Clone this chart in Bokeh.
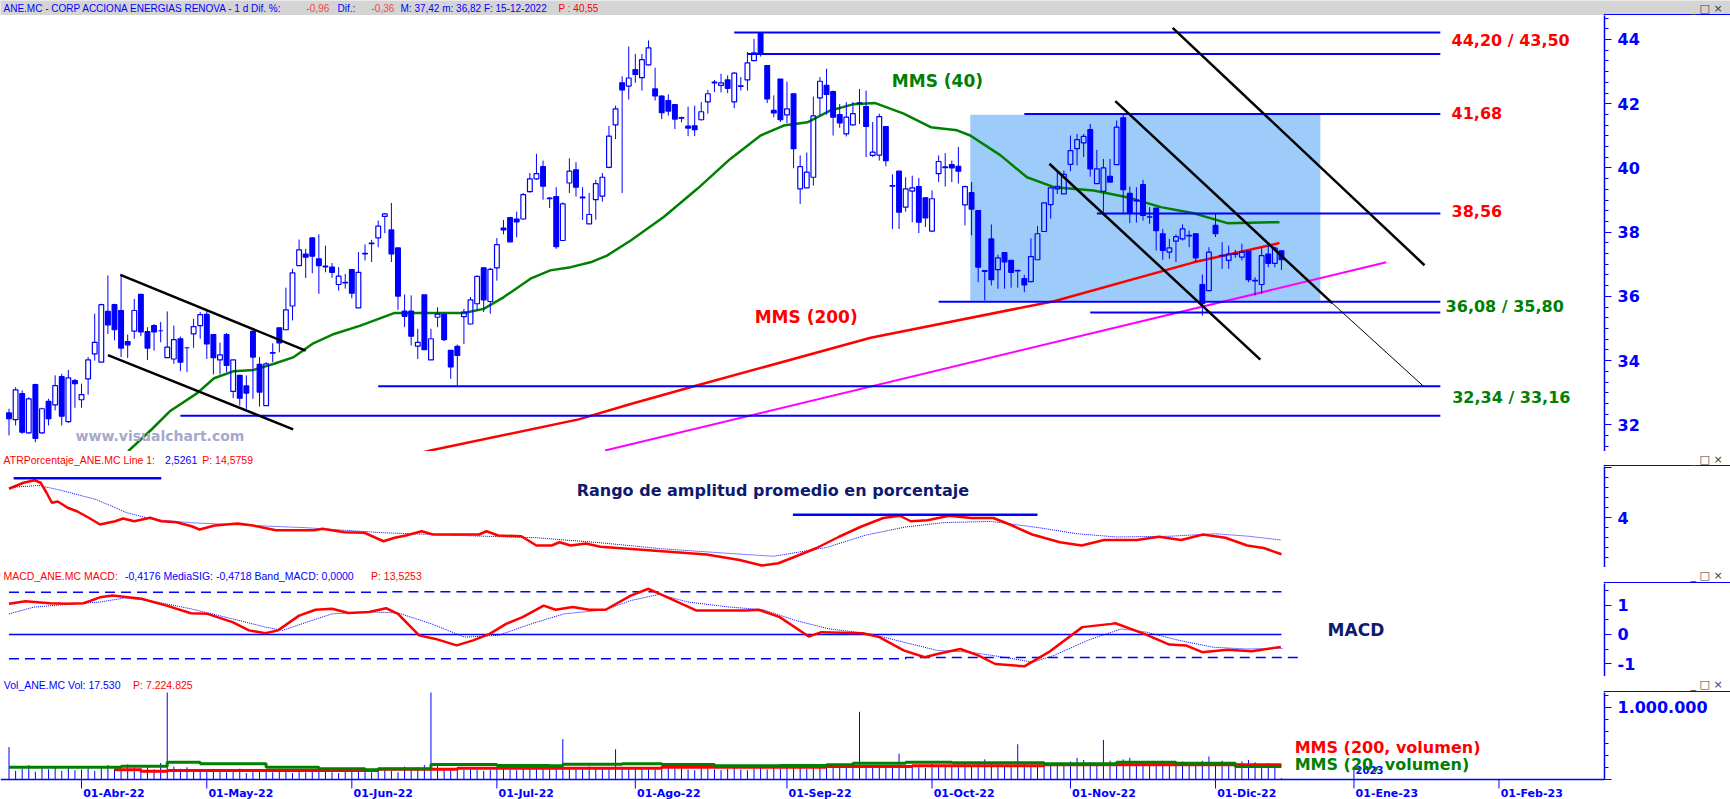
import pandas as pd
from bokeh.plotting import figure
from bokeh.layouts import column
from bokeh.models import Range1d, FixedTicker, Label, Span
from bokeh.core.properties import value
from bokeh.embed import file_html
from bokeh.resources import INLINE

# ---------------- data ----------------
holidays = ["2022-04-15", "2022-04-18", "2022-12-26"]
days = [d for d in pd.bdate_range("2022-03-17", "2023-02-28") if d.strftime("%Y-%m-%d") not in holidays]

tick_dates = ["2022-04-01", "2022-05-01", "2022-06-01", "2022-07-01", "2022-08-01", "2022-09-01",
              "2022-10-01", "2022-11-01", "2022-12-01", "2023-01-01", "2023-02-01"]
tick_labels = ["01-Abr-22", "01-May-22", "01-Jun-22", "01-Jul-22", "01-Ago-22", "01-Sep-22",
               "01-Oct-22", "01-Nov-22", "01-Dic-22", "01-Ene-23", "01-Feb-23"]

opens = [
    32.37, 32.16, 32.97, 31.75, 33.25, 31.75, 32.73, 32.62, 33.50, 32.10,
    33.38, 32.78, 33.43, 34.21, 33.95, 35.53, 35.74, 35.56, 34.59, 34.92,
    36.06, 34.90, 35.09, 34.93, 34.09, 34.05, 34.68, 34.40, 34.83, 35.09,
    35.44, 34.81, 34.02, 34.81, 33.04, 33.54, 33.21, 34.91, 33.88, 32.60,
    34.23, 35.02, 34.96, 35.70, 36.96, 37.32, 37.82, 37.17, 36.92, 36.91,
    36.37, 36.42, 36.83, 35.64, 37.32, 37.64, 37.82, 38.49, 38.07, 37.51,
    35.54, 35.54, 34.45, 36.05, 34.02, 35.35, 35.44, 34.32, 34.44, 35.37,
    35.14, 35.77, 36.89, 35.84, 36.89, 38.13, 38.45, 38.41, 38.41, 39.26,
    39.66, 40.04, 39.06, 39.11, 37.74, 39.53, 39.94, 39.09, 38.26, 39.01,
    39.12, 40.02, 41.34, 42.65, 42.55, 43.06, 42.81, 43.21, 42.46, 42.24,
    42.10, 41.97, 41.57, 41.30, 41.31, 41.50, 42.06, 42.67, 42.57, 42.74,
    42.06, 42.56, 42.74, 43.34, 44.18, 43.19, 41.79, 42.77, 41.65, 42.31,
    39.35, 39.38, 39.71, 42.18, 42.57, 42.38, 41.66, 41.06, 41.34, 42.03,
    41.91, 40.39, 40.40, 41.29, 39.45, 39.90, 38.78, 39.28, 39.42, 39.07,
    38.03, 39.82, 40.03, 40.10, 40.05, 38.85, 39.23, 38.67, 36.80, 37.79,
    36.83, 37.36, 37.12, 36.81, 36.55, 36.46, 37.14, 38.02, 38.86, 39.35,
    39.19, 40.11, 40.60, 40.78, 41.19, 39.51, 39.27, 39.74, 40.10, 41.56,
    39.21, 38.99, 39.48, 38.48, 38.75, 37.95, 37.38, 37.72, 37.79, 37.90,
    37.95, 36.37, 36.18, 38.21, 37.28, 37.12, 37.33, 37.22, 37.41, 36.50,
    36.37, 37.32, 37.03, 37.42]
highs = [
    32.50, 33.17, 33.07, 32.86, 33.28, 32.53, 32.81, 33.54, 33.59, 33.71,
    33.43, 33.28, 34.11, 35.46, 35.77, 36.65, 35.77, 36.70, 34.81, 35.92,
    36.06, 35.04, 35.14, 35.20, 35.53, 35.09, 34.75, 34.40, 35.30, 35.51,
    35.61, 34.81, 34.56, 34.86, 34.02, 33.56, 33.54, 34.94, 34.11, 33.95,
    34.54, 35.02, 36.27, 36.86, 37.77, 37.48, 37.84, 37.93, 37.58, 37.04,
    36.91, 36.70, 36.83, 37.38, 37.62, 37.76, 38.36, 38.60, 38.91, 37.51,
    36.06, 36.03, 34.99, 36.05, 34.99, 35.66, 35.44, 34.32, 34.50, 35.61,
    35.98, 36.65, 36.91, 36.89, 37.82, 38.38, 38.45, 38.64, 39.22, 39.84,
    40.44, 40.23, 39.09, 39.40, 38.93, 40.30, 40.18, 39.40, 39.22, 39.63,
    39.84, 41.31, 41.94, 42.85, 43.78, 43.55, 43.55, 43.97, 43.12, 42.26,
    42.29, 41.97, 41.60, 41.91, 41.94, 42.05, 42.43, 42.74, 42.93, 42.88,
    42.98, 42.83, 43.61, 44.02, 44.20, 43.19, 42.26, 42.77, 42.69, 42.31,
    40.39, 40.48, 42.22, 42.83, 43.09, 42.41, 41.99, 42.05, 42.05, 42.46,
    42.41, 41.43, 41.69, 41.29, 39.80, 39.90, 39.71, 39.76, 39.69, 39.09,
    39.30, 40.39, 40.46, 40.23, 40.65, 39.45, 39.56, 38.67, 36.82, 38.24,
    37.30, 37.36, 37.12, 36.82, 36.67, 37.81, 38.19, 38.91, 39.38, 39.89,
    39.92, 41.01, 41.06, 41.06, 41.37, 40.56, 40.28, 40.28, 41.48, 41.68,
    39.42, 39.40, 39.63, 38.78, 38.75, 38.10, 37.79, 37.93, 38.24, 38.05,
    37.97, 36.68, 37.53, 38.57, 37.69, 37.58, 37.45, 37.64, 37.41, 36.60,
    37.53, 37.58, 37.55, 37.42]
lows = [
    31.67, 31.98, 31.72, 31.72, 31.46, 31.72, 31.98, 32.45, 31.98, 32.06,
    32.53, 32.53, 32.94, 34.00, 33.95, 34.83, 34.63, 34.11, 34.08, 34.68,
    34.76, 34.02, 34.31, 34.57, 34.09, 33.90, 33.67, 33.64, 34.40, 34.68,
    34.05, 33.57, 33.57, 33.64, 32.83, 32.60, 32.50, 32.81, 32.57, 32.60,
    33.95, 34.26, 34.94, 35.25, 36.96, 36.57, 36.72, 36.08, 36.75, 36.58,
    36.18, 36.24, 35.94, 35.64, 37.12, 37.07, 37.53, 37.97, 37.07, 35.58,
    35.04, 34.47, 34.05, 34.34, 34.02, 35.04, 34.61, 33.43, 33.22, 34.52,
    35.12, 35.56, 35.51, 35.46, 36.49, 37.93, 37.70, 37.84, 38.38, 39.23,
    39.63, 39.01, 38.75, 37.48, 37.72, 39.22, 39.11, 38.38, 38.26, 38.39,
    38.95, 39.99, 40.90, 39.22, 42.13, 42.65, 42.41, 43.19, 42.10, 41.52,
    41.63, 41.21, 41.42, 40.99, 40.99, 41.48, 41.69, 42.36, 42.35, 42.33,
    41.86, 42.41, 42.41, 43.34, 43.47, 42.02, 41.58, 41.43, 41.39, 39.99,
    38.88, 39.38, 39.45, 41.63, 41.66, 41.01, 41.25, 40.98, 41.32, 41.37,
    40.34, 40.34, 40.23, 40.05, 38.10, 38.10, 38.64, 38.31, 37.97, 38.16,
    38.00, 39.56, 39.42, 39.56, 39.51, 38.21, 37.90, 36.44, 35.87, 36.34,
    36.24, 36.24, 36.27, 36.27, 36.13, 36.44, 37.14, 38.02, 38.42, 39.19,
    39.19, 39.90, 40.08, 40.34, 39.73, 39.51, 38.62, 39.56, 40.10, 38.57,
    38.28, 38.30, 38.36, 38.26, 37.43, 37.14, 37.17, 37.07, 37.74, 37.53,
    37.07, 35.40, 36.16, 37.85, 36.86, 36.86, 37.20, 37.12, 36.44, 36.03,
    36.08, 36.91, 36.91, 36.82]
closes = [
    32.19, 33.09, 31.77, 32.81, 31.58, 32.50, 32.19, 33.22, 32.27, 33.46,
    33.28, 32.94, 34.02, 34.57, 35.74, 35.11, 34.96, 34.39, 34.49, 35.56,
    34.89, 34.39, 34.89, 34.93, 34.42, 34.65, 33.95, 34.40, 35.06, 35.43,
    34.52, 34.09, 34.18, 33.85, 34.02, 32.83, 32.99, 34.11, 33.02, 33.90,
    34.25, 34.55, 35.58, 36.73, 37.45, 37.22, 37.25, 36.96, 36.94, 36.75,
    36.63, 36.44, 36.10, 36.75, 37.34, 37.66, 38.19, 38.57, 37.32, 36.01,
    35.38, 34.76, 34.57, 34.34, 34.68, 35.45, 34.65, 33.80, 34.16, 35.51,
    35.89, 36.62, 35.89, 36.84, 37.61, 38.07, 37.70, 38.32, 39.17, 39.66,
    39.82, 39.43, 39.04, 37.55, 38.88, 39.90, 39.40, 39.07, 38.55, 39.51,
    39.71, 40.99, 41.84, 42.43, 42.80, 42.91, 43.37, 43.74, 42.24, 41.72,
    41.77, 41.52, 41.55, 41.24, 41.19, 41.75, 42.31, 42.65, 42.65, 42.48,
    42.95, 42.54, 43.27, 43.58, 43.57, 42.15, 41.71, 41.50, 41.84, 40.60,
    40.04, 39.87, 41.62, 42.70, 42.29, 41.58, 41.40, 41.58, 41.69, 42.01,
    41.29, 40.49, 41.60, 40.23, 39.43, 38.62, 39.35, 39.38, 38.31, 38.44,
    39.04, 40.20, 40.01, 40.00, 39.90, 39.42, 38.72, 36.91, 36.78, 36.52,
    37.20, 37.07, 36.75, 36.79, 36.36, 37.24, 37.95, 38.91, 39.38, 39.43,
    39.80, 40.54, 40.88, 40.98, 39.97, 39.97, 40.00, 39.56, 41.27, 39.32,
    38.59, 38.97, 38.52, 38.47, 38.05, 37.43, 37.51, 37.86, 38.10, 37.88,
    37.20, 35.77, 37.38, 37.95, 37.26, 37.32, 37.31, 37.38, 36.52, 36.48,
    37.27, 37.03, 37.50, 37.14]
volumes_k = [
    450, 120, 150, 200, 110, 180, 140, 170, 120, 160, 130,
    140, 160, 120, 180, 200, 150, 130, 210, 170, 160, 190, 140, 230, 1250, 180, 150, 170, 140, 130,
    120, 110, 140, 100, 130, 150, 90, 110, 130, 120, 100, 140, 110, 90, 120, 100, 130, 170, 110, 100, 90, 120,
    130, 150, 110, 100, 160, 140, 120, 100, 180, 150, 170, 200, 1250, 190, 150, 140, 160, 130, 150, 140, 120, 130,
    150, 160, 140, 130, 170, 150, 160, 180, 150, 170, 560, 160, 140, 150, 180, 170, 160, 150, 420, 160, 150,
    170, 160, 150, 140, 180, 160, 150, 170, 140, 130, 160, 150, 140, 130, 150, 160, 140, 130, 150, 160, 140, 170, 150,
    160, 180, 170, 150, 190, 170, 160, 180, 170, 190, 180, 940, 200, 190, 170, 180, 160, 360, 190, 180, 170, 160,
    220, 200, 180, 190, 210, 230, 200, 250, 280, 230, 210, 200, 190, 490, 220, 200, 210, 190, 200, 230, 210,
    250, 300, 270, 240, 230, 550, 260, 240, 280, 300, 250, 230, 220, 240, 260, 230, 210, 250, 240, 220, 260, 320,
    240, 260, 230, 220, 250, 270, 240, 210, 230, 200, 18]

# moving averages (sampled along the curves)
mms40_idx = [17.0, 18.2, 21.7, 24.5, 28.5, 31.1, 34.1, 37.1, 40.2, 43.2, 46.0, 49.3, 53.3, 58.4, 65.4, 69.0,
             72.0, 75.0, 79.1, 82.1, 85.2, 88.2, 90.7, 94.3, 99.3, 104.4, 109.4, 114.0, 117.5, 121.1, 124.6,
             128.0, 131.4, 135.7, 139.8, 143.8, 145.8, 150.4, 154.4, 158.5, 164.5, 169.6, 174.7, 179.7, 184.8, 192.7]
mms40_val = [30.80, 31.20, 31.87, 32.44, 32.98, 33.45, 33.67, 33.71, 33.90, 34.11, 34.52, 34.83, 35.09, 35.48,
             35.48, 35.48, 35.61, 35.97, 36.55, 36.81, 36.91, 37.06, 37.27, 37.74, 38.47, 39.35, 40.28, 41.01,
             41.32, 41.42, 41.79, 41.98, 42.02, 41.69, 41.27, 41.17, 41.01, 40.39, 39.71, 39.40, 39.30, 39.09,
             38.78, 38.59, 38.28, 38.31]
mms200_idx = [60.0, 63.9, 86.4, 94.3, 103.9, 130.7, 158.5, 179.7, 192.7]
mms200_val = [31.00, 31.20, 32.17, 32.65, 33.20, 34.71, 35.85, 37.06, 37.66]

# drawn studies on the price chart
level_prices = [44.22, 43.55, 41.68, 38.58, 35.83, 35.50, 33.20, 32.28]
level_start = [110, 112, 154, 165, 141, 164, 56, 26]
level_end = 217.1
level_texts = ["44,20 / 43,50", "41,68", "38,56", "36,08 / 35,80", "32,34 / 33,16"]
level_text_price = [43.98, 41.70, 38.66, 35.68, 32.84]
level_text_idx = [218.8, 218.8, 218.8, 217.9, 218.9]
level_text_color = ["#ff0000", "#ff0000", "#ff0000", "#008000", "#008000"]

trend_x0 = [16.9, 15.0, 157.8, 167.8, 176.5]
trend_y0 = [36.67, 34.17, 40.13, 42.08, 44.36]
trend_x1 = [45.0, 43.1, 189.8, 200.7, 214.7]
trend_y1 = [34.31, 31.86, 34.03, 35.79, 36.97]
thin_x = [200.7, 214.6]
thin_y = [35.79, 33.19]
support_x = [90.4, 208.9]
support_y = [31.20, 37.06]
box_idx = [145.8, 198.9]
box_price = [35.86, 41.66]

# ATR %
atr_idx = [0, 2.2, 3.9, 4.8, 5.7, 6.5, 7.4, 8.9, 10.3, 12.1, 13.8, 16.1, 17.3, 19.0, 21.4, 23.1, 25.4, 27.7,
           28.9, 31.2, 34.7, 37.0, 40.5, 46.3, 47.5, 50.9, 53.9, 56.8, 58.5, 60.2, 62.6, 64.3, 71.3, 72.4, 74.2,
           77.7, 80.0, 82.3, 83.5, 85.2, 87.5, 89.7, 99.1, 105.8, 110.8, 114.2, 116.7, 119.2, 122.5, 125.9,
           129.2, 132.6, 135.1, 136.8, 139.3, 142.6, 146.0, 149.3, 151.8, 155.2, 159.4, 162.7, 166.1, 171.1,
           174.4, 177.8, 181.1, 184.5, 187.8, 190.3, 193.0]
atr_val = [5.15, 5.39, 5.49, 5.39, 4.99, 4.59, 4.64, 4.39, 4.25, 3.99, 3.72, 3.85, 3.96, 3.85, 3.99, 3.85, 3.81,
           3.65, 3.52, 3.68, 3.76, 3.68, 3.49, 3.49, 3.55, 3.41, 3.39, 3.05, 3.19, 3.28, 3.45, 3.32, 3.32, 3.45,
           3.28, 3.25, 2.88, 2.88, 3.01, 2.88, 2.96, 2.83, 2.65, 2.52, 2.30, 2.08, 2.17, 2.43, 2.78, 3.23, 3.63,
           3.98, 4.07, 3.85, 3.89, 4.07, 3.98, 3.98, 3.72, 3.32, 3.01, 2.88, 3.10, 3.10, 3.23, 3.10, 3.32, 3.19,
           2.88, 2.78, 2.53]
atr_avg_idx = [0, 4.5, 7.4, 13.2, 17.9, 21.9, 27.7, 33.5, 45.2, 50.9, 56.8, 68.4, 80.0, 89.7, 99, 110, 116, 124,
               130, 136, 142, 149, 156, 162, 168, 176, 183, 188, 193]
atr_avg_val = [5.20, 5.28, 5.12, 4.72, 4.19, 3.92, 3.79, 3.72, 3.59, 3.49, 3.39, 3.28, 3.19, 2.99, 2.75, 2.55,
               2.45, 2.80, 3.30, 3.62, 3.80, 3.84, 3.60, 3.35, 3.22, 3.25, 3.35, 3.25, 3.10]
atr_marks_x0 = [0.7, 118.9]
atr_marks_x1 = [23.1, 156.0]
atr_marks_y = [5.57, 4.11]

# MACD
macd_idx = [0, 2.5, 6.2, 8.8, 11.3, 13.8, 15.7, 20.1, 23.9, 27.6, 30.1, 33.9, 36.4, 38.9, 40.8, 44.0, 46.5, 49.0,
            51.5, 54.6, 57.2, 59.0, 62.2, 64.7, 67.9, 70.4, 72.9, 75.4, 77.9, 81.1, 82.9, 85.5, 88.0, 90.5, 94.3,
            97.0, 99.3, 104.3, 111.9, 113.7, 116.9, 121.3, 123.2, 129.5, 132.0, 135.7, 138.9, 140.8, 144.3, 147.0,
            149.6, 154.0, 157.7, 162.8, 167.2, 167.8, 172.2, 176.0, 178.5, 181.0, 184.8, 188.5, 192.9]
macd_val = [1.04, 1.13, 1.06, 1.04, 1.06, 1.26, 1.32, 1.21, 0.98, 0.72, 0.70, 0.42, 0.14, 0.04, 0.14, 0.64, 0.84,
            0.87, 0.73, 0.76, 0.89, 0.70, -0.03, -0.15, -0.37, -0.20, 0.02, 0.36, 0.59, 0.98, 0.84, 0.93, 0.84,
            0.84, 1.32, 1.55, 1.32, 0.81, 0.81, 0.84, 0.59, -0.07, 0.08, 0.04, -0.09, -0.54, -0.77, -0.66, -0.49,
            -0.71, -1.00, -1.08, -0.60, 0.25, 0.36, 0.38, 0.02, -0.34, -0.37, -0.60, -0.52, -0.57, -0.42]
sig_idx = [0, 3.8, 8.8, 13.8, 17.6, 21.3, 27.6, 33.9, 38.9, 41.5, 45.2, 49.0, 55.3, 59.0, 64.1, 69.1, 74.2, 79.2,
           84.2, 90.5, 94.3, 98.6, 103.0, 109.3, 114.4, 119.4, 124.4, 130.7, 135.7, 140.8, 145.8, 150.9, 155.3,
           158.5, 163.6, 168.7, 172.5, 177.5, 182.6, 187.6, 193.3]
sig_val = [0.70, 0.93, 1.02, 1.10, 1.24, 1.15, 0.87, 0.53, 0.25, 0.14, 0.42, 0.70, 0.76, 0.73, 0.36, -0.09, -0.03,
           0.36, 0.70, 0.84, 1.15, 1.36, 1.10, 0.93, 0.84, 0.47, 0.19, 0.02, -0.26, -0.54, -0.60, -0.77, -0.94,
           -0.71, -0.20, 0.19, 0.08, -0.20, -0.43, -0.49, -0.47]
band_up_x = [0, 58, 58, 193]
band_up_y = [1.43, 1.43, 1.45, 1.45]
band_dn_x = [0, 136, 136, 196]
band_dn_y = [-0.82, -0.82, -0.78, -0.78]

# volume averages (thousands)
vma20_idx = [0, 17, 24, 29, 39, 47, 54, 56, 64, 74, 82, 84, 93, 99, 107, 117, 124, 128, 136, 143, 157, 168, 177, 186, 193]
vma20_val = [171, 185, 241, 218, 171, 148, 134, 148, 208, 194, 190, 213, 218, 208, 190, 194, 204, 227, 241, 231,
             218, 241, 227, 181, 181]
vma200_idx = [16, 20, 24, 56, 68, 99, 124, 137, 157, 193]
vma200_val = [134, 116, 125, 144, 157, 171, 181, 190, 204, 204]

# ---------------- styling ----------------
BLUE = "#0000ff"
RED = "#ff0000"
GREEN = "#008000"
NAVY = "#0d1a6e"
W = 1730
PLOT_W = 1604
XR = (-1.29, 242.0)
BOLD = value("DejaVu Sans")
HDR_FONT = "Liberation Sans"

n = min(len(opens), len(highs), len(lows), len(closes))
xs = list(range(n))


def no_align(f):
    try:
        f.frame_align = False
    except Exception:
        pass


def make_fig(h, y0, y1):
    p = figure(width=W, height=h, x_range=Range1d(*XR), y_range=Range1d(y0, y1),
               x_axis_location=None, y_axis_location="right", toolbar_location=None,
               output_backend="svg", min_border_left=0, min_border_right=W - PLOT_W,
               min_border_top=0, min_border_bottom=0, background_fill_color="white",
               border_fill_color="white", outline_line_color=None)
    p.xgrid.visible = False
    p.ygrid.visible = False
    ax = p.yaxis[0]
    ax.axis_line_color = BLUE
    ax.axis_line_width = 1.5
    ax.major_tick_line_color = BLUE
    ax.minor_tick_line_color = BLUE
    ax.major_tick_out = 7
    ax.major_tick_in = 0
    ax.minor_tick_out = 4
    ax.minor_tick_in = 0
    ax.major_label_text_color = BLUE
    ax.major_label_text_font = "DejaVu Sans"
    ax.major_label_text_font_style = "bold"
    ax.major_label_text_font_size = "16px"
    ax.major_label_standoff = 6
    return p


def strip(h, pieces, y, bg="white", size="10.5px"):
    s = figure(width=W, height=h, x_range=Range1d(0, W), y_range=Range1d(0, h), title=None,
               x_axis_location=None, y_axis_location=None, toolbar_location=None,
               output_backend="svg", min_border_left=0, min_border_right=0, min_border_top=0,
               min_border_bottom=0, background_fill_color=bg,
               border_fill_color=bg, outline_line_color=None)
    no_align(s)
    s.xgrid.visible = False
    s.ygrid.visible = False
    for txt, x, col in pieces:
        s.add_layout(Label(x=x, y=y, x_units="screen", y_units="screen", text=txt, text_color=col,
                           text_font=HDR_FONT, text_font_size=size, text_baseline="middle",
                           text_align="left"))
    s.add_layout(Label(x=1690, y=y, x_units="screen", y_units="screen", text="_ \u25a1 \u00d7",
                       text_color="#404040", text_font="DejaVu Sans", text_font_size="11px",
                       text_baseline="middle"))
    # top edge of the value-axis box
    s.segment(x0=[PLOT_W - 0.75], x1=[W], y0=[0.75], y1=[0.75], color=BLUE, line_width=1.5)
    return s


def sep():
    s = figure(width=W, height=1, x_range=Range1d(0, 1), y_range=Range1d(0, 1), title=None,
               x_axis_location=None, y_axis_location=None, toolbar_location=None,
               output_backend="svg", min_border_left=0, min_border_right=0, min_border_top=0,
               min_border_bottom=0, background_fill_color="black",
               border_fill_color="black", outline_line_color=None)
    no_align(s)
    return s


# ---------------- title bar ----------------
pt = strip(15, [("ANE.MC - CORP ACCIONA ENERGIAS RENOVA -  1 d  Dif. %:", 3, BLUE),
                ("-0,96", 306, "#f04848"), ("Dif.:", 337, BLUE), ("-0,36", 371, "#f04848"),
                ("M: 37,42  m: 36,82  F: 15-12-2022", 400, BLUE), ("P : 40,55", 558, RED)],
           7.5, bg="#d4d4d4", size="10px")

# ---------------- price panel ----------------
pp = make_fig(436, 31.169, 44.747)
pp.yaxis[0].ticker = FixedTicker(ticks=[32, 34, 36, 38, 40, 42, 44],
                                 minor_ticks=[round(31 + i / 3, 3) for i in range(0, 43)])
pp.quad(left=[box_idx[0]], right=[box_idx[1]], bottom=[box_price[0]], top=[box_price[1]],
        fill_color="#9dcbfa", line_color=None)
pp.line(mms200_idx, mms200_val, color=RED, line_width=2.5)
pp.line(support_x, support_y, color="#ff00ff", line_width=2)
pp.line(mms40_idx, mms40_val, color=GREEN, line_width=2.5)

tops = [max(opens[i], closes[i]) for i in xs]
bots = [min(opens[i], closes[i]) for i in xs]
fills = [None if closes[i] >= opens[i] else BLUE for i in xs]
pp.segment(x0=xs, x1=xs, y0=highs[:n], y1=tops, color=BLUE, line_width=1)
pp.segment(x0=xs, x1=xs, y0=bots, y1=lows[:n], color=BLUE, line_width=1)
pp.vbar(x=xs, width=0.72, top=tops, bottom=bots, fill_color=fills, line_color=BLUE, line_width=1.2)

pp.segment(x0=level_start, x1=[level_end] * len(level_start), y0=level_prices, y1=level_prices,
           color=BLUE, line_width=2)
pp.segment(x0=trend_x0, y0=trend_y0, x1=trend_x1, y1=trend_y1, color="black", line_width=2.5)
pp.line(thin_x, thin_y, color="black", line_width=1)

for t, xi, yi, c in zip(level_texts, level_text_idx, level_text_price, level_text_color):
    pp.text(x=[xi], y=[yi], text=[t], text_font=BOLD, text_font_style="bold", text_font_size="16px",
            text_color=c, text_baseline="middle", text_align="left")
pp.text(x=[133.9], y=[42.72], text=["MMS (40)"], text_font=BOLD, text_font_style="bold",
        text_font_size="17px", text_color=GREEN, text_baseline="middle")
pp.text(x=[113.1], y=[35.35], text=["MMS (200)"], text_font=BOLD, text_font_style="bold",
        text_font_size="17px", text_color=RED, text_baseline="middle")
pp.text(x=[10.1], y=[31.64], text=["www.visualchart.com"], text_font=BOLD, text_font_style="bold",
        text_font_size="14px", text_color="#a6a8cc", text_baseline="middle")

# ---------------- ATR panel ----------------
ha = strip(14, [("ATRPorcentaje_ANE.MC  Line 1:", 3, RED), ("2,5261", 164.6, BLUE),
                ("P: 14,5759", 201.7, RED)], 6.7)
pa = make_fig(101, 2.0, 6.04)
pa.yaxis[0].ticker = FixedTicker(ticks=[2, 4, 6], minor_ticks=[round(2 + 0.4 * i, 2) for i in range(0, 11)])
pa.yaxis[0].major_label_overrides = {2: "", 6: ""}
pa.line(atr_avg_idx, atr_avg_val, color=BLUE, line_width=1, line_dash="1 1")
pa.line(atr_idx, atr_val, color=RED, line_width=2.5)
pa.segment(x0=atr_marks_x0, x1=atr_marks_x1, y0=atr_marks_y, y1=atr_marks_y, color=BLUE, line_width=2.5)
pa.text(x=[86.1], y=[5.08], text=["Rango de amplitud promedio en porcentaje"], text_font=BOLD,
        text_font_style="bold", text_font_size="16px", text_color=NAVY, text_baseline="middle")

# ---------------- MACD panel ----------------
hm = strip(15, [("MACD_ANE.MC  MACD:", 3, RED), ("-0,4176  MediaSIG: -0,4718  Band_MACD: 0,0000", 124.4, BLUE),
                ("P: 13,5253", 370.5, RED)], 8)
pm = make_fig(93, -1.424, 1.729)
pm.yaxis[0].ticker = FixedTicker(ticks=[-1, 0, 1], minor_ticks=[-1.5, -0.5, 0.5, 1.5])
pm.yaxis[0].major_label_overrides = {-1: "-1", 0: "0", 1: "1"}
pm.line(band_up_x, band_up_y, color=BLUE, line_width=1.5, line_dash="10 6")
pm.line(band_dn_x, band_dn_y, color=BLUE, line_width=1.5, line_dash="10 6")
pm.line([0, 193], [0, 0], color=BLUE, line_width=1.5)
pm.line(sig_idx, sig_val, color=BLUE, line_width=1, line_dash="1 1")
pm.line(macd_idx, macd_val, color=RED, line_width=2.5)
pm.text(x=[200.0], y=[0.146], text=["MACD"], text_font=BOLD, text_font_style="bold",
        text_font_size="17px", text_color=NAVY, text_baseline="middle")

# ---------------- Volume panel ----------------
hv = strip(15, [("Vol_ANE.MC  Vol: 17.530", 3.3, BLUE), ("P: 7.224.825", 132.6, RED)], 7.7)
pv = make_fig(107, -277800, 1208300)
pv.yaxis[0].bounds = (0, 1208300)
pv.yaxis[0].ticker = FixedTicker(ticks=[0, 1000000], minor_ticks=[i * 1000000 / 6 for i in range(0, 8)])
pv.yaxis[0].major_label_overrides = {0: "", 1000000: "1.000.000"}
vols = [v * 1000 for v in volumes_k[:n]]
pv.segment(x0=xs, x1=xs, y0=[0] * n, y1=vols, color=BLUE, line_width=1)
pv.step(vma200_idx, [v * 1000 for v in vma200_val], mode="after", color=RED, line_width=3)
pv.step(vma20_idx, [v * 1000 for v in vma20_val], mode="after", color=GREEN, line_width=3)
pv.add_layout(Span(location=0, dimension="width", line_color=BLUE, line_width=1.5))

tick_idx = []
for t in tick_dates:
    ts = pd.Timestamp(t)
    tick_idx.append(next(i for i, d in enumerate(days) if d >= ts))
pv.segment(x0=tick_idx, x1=tick_idx, y0=[0] * len(tick_idx), y1=[-125000] * len(tick_idx),
           color=BLUE, line_width=1)
jan = tick_idx[tick_labels.index("01-Ene-23")]
pv.segment(x0=[jan], x1=[jan], y0=[153000], y1=[0], color=BLUE, line_width=1)
pv.text(x=[i + 0.25 for i in tick_idx], y=[-194000] * len(tick_idx), text=tick_labels, text_font=BOLD,
        text_font_style="bold", text_font_size="11px", text_color=BLUE, text_baseline="middle")
pv.text(x=[jan + 0.25], y=[125000], text=["2023"], text_font=BOLD, text_font_style="bold",
        text_font_size="10px", text_color=BLUE, text_baseline="middle")
pv.text(x=[195.0], y=[444000], text=["MMS (200, volumen)"], text_font=BOLD, text_font_style="bold",
        text_font_size="16px", text_color=RED, text_baseline="middle")
pv.text(x=[195.0], y=[208000], text=["MMS (20, volumen)"], text_font=BOLD, text_font_style="bold",
        text_font_size="16px", text_color=GREEN, text_baseline="middle")

layout = column(pt, pp, sep(), ha, pa, sep(), hm, pm, sep(), hv, pv, spacing=0)
open("out.html", "w").write(file_html(layout, INLINE))
